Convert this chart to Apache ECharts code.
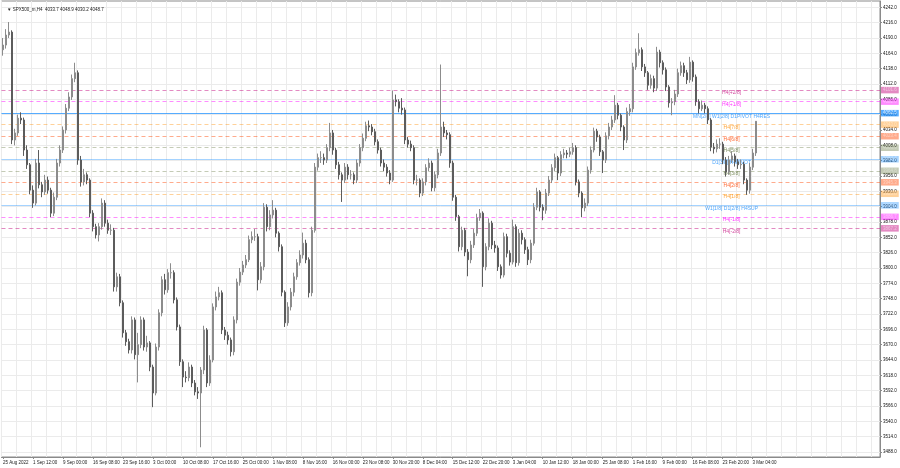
<!DOCTYPE html>
<html><head><meta charset="utf-8">
<script src="https://cdn.jsdelivr.net/npm/echarts@6/dist/echarts.min.js"></script>
<style>html,body{margin:0;padding:0;background:#fff}#c{width:900px;height:468px}</style>
</head><body><div id="c"></div>
<script>
const titleText = '\u25BC SPX500_m,H4  4033.7 4048.9 4030.2 4048.7';
const firstOpen = 4170;
const closes = [
4178,4195,4200,4017,4029,4054,4051,4000,3975,3932,
3910,3978,3941,3929,3949,3932,3893,3920,3978,4000,
4034,4071,4090,4121,4131,3983,3946,3958,3949,3893,
3870,3856,3870,3910,3876,3864,3864,3768,3785,3741,
3690,3675,3661,3712,3653,3670,3712,3666,3673,3632,
3588,3666,3724,3780,3763,3792,3792,3746,3700,3641,
3615,3614,3632,3605,3590,3588,3627,3695,3605,3644,
3734,3751,3758,3695,3686,3678,3658,3712,3776,3793,
3805,3814,3848,3853,3853,3780,3802,3903,3870,3890,
3898,3859,3836,3759,3707,3734,3759,3785,3809,3822,
3842,3814,3758,3864,3971,3987,3987,3983,4004,4029,
4000,3975,3958,3949,3971,3958,3958,3949,3978,4004,
4020,4041,4039,4031,4014,4000,3978,3971,3961,3949,
4085,4082,4071,4068,4017,4010,4004,3949,3949,3927,
3946,3970,3978,3936,3958,3995,4039,4029,4026,3978,
3920,3887,3836,3864,3827,3814,3839,3859,3885,3893,
3802,3836,3876,3839,3834,3802,3788,3853,3825,3810,
3870,3809,3859,3848,3831,3814,3842,3903,3929,3903,
3898,3927,3949,3970,3987,3961,3992,3995,3993,3997,
4004,3946,3927,3902,3910,3966,4000,4032,4022,3997,
3983,4024,4039,4051,4076,4059,4039,4017,4065,4070,
4141,4165,4170,4141,4131,4110,4121,4105,4166,4148,
4136,4107,4080,4082,4095,4131,4143,4131,4119,4149,
4124,4082,4070,4076,4070,4051,4005,4002,4010,4010,
3983,3963,3983,3990,3980,3975,3976,3949,3932,3971,
3995,4048.7];
const highs = [
4190,4205,4217,4203,4036,4060,4064,4055,4008,3978,
3940,3985,4000,3946,3958,3955,3936,3928,3985,4008,
4040,4078,4098,4128,4148,4135,3990,3968,3962,3952,
3898,3875,3876,3918,3915,3882,3874,3868,3792,3790,
3745,3695,3680,3718,3716,3690,3718,3716,3685,3676,
3636,3672,3730,3786,3790,3798,3808,3796,3750,3704,
3645,3625,3640,3636,3610,3598,3632,3702,3698,3652,
3740,3760,3768,3762,3700,3692,3682,3718,3782,3800,
3812,3822,3855,3862,3866,3858,3810,3910,3908,3898,
3915,3902,3862,3840,3762,3742,3766,3792,3815,3830,
3860,3848,3818,3870,3978,3994,3998,3994,4010,4046,
4034,4004,3980,3962,3978,3976,3966,3962,3984,4010,
4028,4048,4050,4044,4036,4018,4004,3984,3976,3966,
4101,4094,4086,4088,4072,4022,4016,4008,3958,3952,
3952,3976,3986,3982,3964,4002,4145,4048,4034,4030,
3982,3924,3890,3870,3868,3832,3846,3866,3892,3900,
3896,3842,3884,3880,3846,3838,3806,3860,3858,3830,
3882,3874,3866,3864,3852,3836,3848,3910,3936,3932,
3908,3934,3956,3976,3994,3990,3998,4002,4000,4004,
4012,4008,3950,3930,3918,3972,4006,4038,4036,4026,
4000,4030,4046,4058,4093,4080,4062,4042,4072,4078,
4148,4172,4198,4174,4146,4134,4128,4126,4175,4170,
4152,4140,4110,4088,4102,4138,4150,4148,4136,4158,
4152,4128,4086,4084,4080,4074,4054,4012,4018,4020,
4014,3988,3990,3998,3994,3985,3984,3980,3952,3978,
4002,4048.9];
const lows = [
4160,4172,4190,4010,4008,4024,4044,3990,3968,3925,
3902,3906,3935,3920,3924,3926,3886,3888,3915,3972,
3995,4028,4066,4085,4115,3975,3938,3940,3942,3886,
3862,3850,3845,3865,3870,3858,3856,3760,3760,3735,
3682,3668,3655,3655,3645,3606,3664,3660,3658,3625,
3564,3584,3660,3718,3755,3758,3782,3740,3694,3634,
3598,3606,3608,3598,3584,3578,3496,3620,3598,3600,
3640,3728,3745,3688,3678,3670,3650,3652,3706,3770,
3788,3800,3810,3842,3846,3762,3774,3796,3862,3864,
3884,3852,3828,3752,3700,3702,3728,3752,3780,3804,
3816,3808,3750,3752,3860,3965,3978,3975,3978,3998,
3992,3968,3950,3912,3944,3950,3950,3942,3944,3972,
3998,4015,4032,4025,4008,3994,3972,3964,3955,3942,
3946,4074,4064,4060,4010,4004,3998,3942,3940,3920,
3922,3940,3964,3930,3930,3952,3990,4022,4018,3970,
3914,3880,3828,3830,3820,3786,3808,3834,3854,3880,
3768,3796,3830,3832,3826,3795,3782,3784,3818,3804,
3806,3802,3804,3840,3824,3805,3808,3838,3898,3896,
3881,3892,3922,3944,3964,3949,3956,3986,3986,3988,
3992,3940,3920,3886,3896,3905,3960,3996,4014,3990,
3961,3978,4018,4034,4046,4052,4032,4000,4012,4058,
4064,4136,4160,4134,4124,4102,4104,4098,4100,4140,
4128,4100,4072,4059,4076,4090,4126,4124,4112,4114,
4116,4075,4062,4066,4062,4044,3998,3994,3996,4002,
3976,3955,3958,3978,3972,3968,3968,3942,3924,3926,
3966,3990];
const timeLabels = ['25 Aug 2022','1 Sep 12:00','9 Sep 00:00','16 Sep 08:00','23 Sep 16:00','3 Oct 00:00','10 Oct 08:00','17 Oct 16:00','25 Oct 00:00','1 Nov 08:00','8 Nov 16:00','16 Nov 00:00','23 Nov 08:00','30 Nov 20:00','8 Dec 04:00','15 Dec 12:00','22 Dec 20:00','3 Jan 04:00','10 Jan 12:00','18 Jan 00:00','25 Jan 08:00','1 Feb 16:00','9 Feb 00:00','16 Feb 08:00','23 Feb 20:00','3 Mar 04:00'];
const timeLabelBars = [0,10,20,30,40,50,60,70,80,90,100,110,120,130,140,150,160,170,180,190,200,210,220,230,240,250];
const priceTicks = [3488,3514,3540,3566,3592,3618,3644,3670,3696,3722,3748,3774,3800,3826,3852,3878,3904,3930,3956,3982,4008,4034,4060,4086,4112,4138,4164,4190,4216,4242];
const levelValues = [4101.6,4082.0,4062.5,4043.0,4023.4,4003.9,3984.4,3964.8,3945.3,3925.8,3906.2,3886.7,3867.2];
const levelNames = ['H4[+2/8]','H4[+1/8]','MN[2/8] W1[2/8] D1PIVOT H4RES','H4[7/8]','H4[6/8]','H4[5/8]','D1[3/8] H4PIVOT','H4[3/8]','H4[2/8]','H4[1/8]','W1[1/8] D1[2/8] H4SUP','H4[-1/8]','H4[-2/8]'];
const levelLabelBar = 243;
const lastPrice = 4048.7;

// styles
const levelColors = ['#c71585','#ff00ff','#1e90ff','#ff8c00','#ff4500','#556b2f','#1e90ff','#556b2f','#ff4500','#ff8c00','#1e90ff','#ff00ff','#c71585'];
const levelSolid  = [false,false,true,false,false,false,true,false,false,false,true,false,false];
const levelOpacity= [0.5,0.45,0.75,0.4,0.45,0.35,0.4,0.35,0.45,0.4,0.4,0.45,0.5];

const TOTAL_BARS = 293;
const cats = [];
for (let i = 0; i < TOTAL_BARS; i++) cats.push(String(i));
const labelMap = {};
timeLabelBars.forEach((b, k) => { labelMap[b] = timeLabels[k]; });

const ohlc = closes.map((c, i) => {
  const o = i === 0 ? firstOpen : closes[i - 1];
  return [o, c, lows[i], highs[i]];
});

const FONT = 'Liberation Sans';
const markData = levelValues.map((v, k) => ({
  yAxis: v,
  lineStyle: { color: levelColors[k], opacity: levelOpacity[k], type: levelSolid[k] ? 'solid' : [4, 3], width: 1 },
  label: { show: true, position: 'end', distance: 1, formatter: v.toFixed(1), color: '#fff',
           backgroundColor: levelColors[k], padding: [1, 2, 0.5, 2], fontSize: 4.5, fontFamily: FONT }
}));
markData.push({
  yAxis: lastPrice,
  lineStyle: { opacity: 0 },
  label: { show: true, position: 'end', distance: 1, formatter: lastPrice.toFixed(1), color: '#fff',
           backgroundColor: '#000', padding: [1, 2, 0.5, 2], fontSize: 4.5, fontFamily: FONT }
});

const chart = echarts.init(document.getElementById('c'), null, { renderer: 'canvas' });
chart.setOption({
  animation: false,
  backgroundColor: '#ffffff',
  title: { text: titleText, left: 2, top: 2, textStyle: { fontSize: 4.5, fontWeight: 'normal', color: '#222', fontFamily: FONT } },
  grid: { left: 0, right: 20, top: 1, bottom: 11, show: true, borderColor: '#8a8a8a', borderWidth: 1, backgroundColor: '#fff' },
  xAxis: {
    type: 'category', data: cats, boundaryGap: true,
    axisLine: { show: true, lineStyle: { color: '#8a8a8a' } },
    axisTick: { show: true, alignWithLabel: true, length: 2, interval: (i) => labelMap[i] !== undefined, lineStyle: { color: '#8a8a8a' } },
    axisLabel: { interval: (i) => labelMap[i] !== undefined, formatter: (v, i) => labelMap[i] || '', align: 'left',
                 fontSize: 4.5, margin: 3, color: '#222', fontFamily: FONT },
    splitLine: { show: true, interval: (i) => i % 5 === 0, lineStyle: { color: '#ebebeb', width: 1 } }
  },
  yAxis: {
    type: 'value', position: 'right', min: 3479.5, max: 4252.7, scale: true,
    axisLine: { show: true, lineStyle: { color: '#8a8a8a' } },
    axisTick: { show: true, length: 2, customValues: priceTicks, lineStyle: { color: '#8a8a8a' } },
    axisLabel: { customValues: priceTicks, formatter: (v) => Number(v).toFixed(1), fontSize: 4.5, margin: 3, color: '#111', fontFamily: FONT },
    splitLine: { show: true, lineStyle: { color: '#ebebeb', width: 1 } }
  },
  series: [
    {
      type: 'scatter', z: 1, symbolSize: 0, silent: true,
      data: levelValues.map((v, k) => ({ value: [levelLabelBar, v],
        label: { show: true, position: 'inside', offset: [0, 3], formatter: levelNames[k], color: levelColors[k], fontSize: 5, fontFamily: FONT } })),
      markLine: { silent: true, symbol: ['none', 'none'], z: 1, animation: false, data: markData }
    },
    {
      type: 'candlestick', z: 3, data: ohlc, barWidth: 1.5,
      itemStyle: { color: '#4d4d4d', color0: '#2e2e2e', borderColor: '#8c8c8c', borderColor0: '#5c5c5c', borderWidth: 1 }
    }
  ]
});
</script></body></html>
